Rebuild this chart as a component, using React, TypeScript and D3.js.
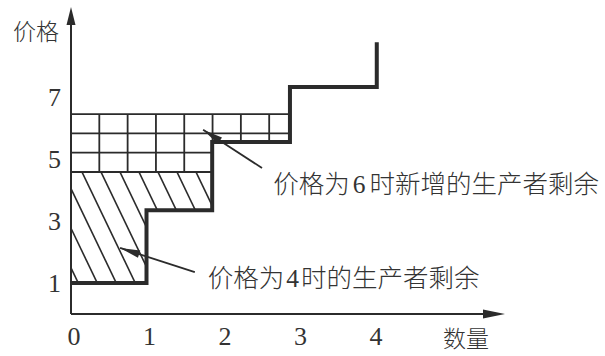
import * as d3 from 'd3';

// quantities where the supply curve steps, and supply price over each piece
const qBreaks = [0, 1, 1.87, 2.9, 4.05];
const supplyPrice = [1, 3.35, 5.55, 7.32, 8.77];

// price levels as drawn (labelled 4 and 6)
const lowPrice = 4.58;
const highPrice = 6.45;

const xTicks = [0, 1, 2, 3, 4];
const yTicks = [1, 3, 5, 7];

const annotations = [
  { pre: '价格为', num: '6', post: '时新增的生产者剩余', gap: [3, 4], tx: 2.68, ty: 3.9, from: [2.53, 4.71], to: [1.75, 5.94] },
  { pre: '价格为', num: '4', post: '时的生产者剩余', gap: [2, 2], tx: 1.81, ty: 0.87, from: [1.64, 1.35], to: [0.65, 2.13] },
];

const W = 605;
const H = 356;
const ink = '#2b2b2b';
const cjk = '"Noto Sans CJK SC", "Noto Sans", sans-serif';
const serif = '"Liberation Serif", "DejaVu Serif", serif';

const x = d3.scaleLinear().domain([0, 4]).range([71, 373]);
const y = d3.scaleLinear().domain([0, 7]).range([314, 97]);

// polygon between a price line and the supply curve
function surplus(top: number, floor: number) {
  const pts: [number, number][] = [[0, top]];
  for (let i = 0; i < supplyPrice.length - 1 && supplyPrice[i] < top; i++) {
    const b = Math.max(supplyPrice[i], floor);
    pts.push([qBreaks[i], b], [qBreaks[i + 1], b]);
  }
  pts.push([pts[pts.length - 1][0], top]);
  return pts;
}

const toPx = (pts: [number, number][]) => pts.map(([q, p]) => `${x(q)},${y(p)}`).join(' ');

function arrowHead(tx: number, ty: number, fx: number, fy: number, len: number, half: number) {
  const a = Math.atan2(ty - fy, tx - fx);
  const bx = tx - len * Math.cos(a);
  const by = ty - len * Math.sin(a);
  const nx = -Math.sin(a) * half;
  const ny = Math.cos(a) * half;
  return `${tx},${ty} ${bx + nx},${by + ny} ${bx - nx},${by - ny}`;
}

export default function App() {
  const supplyLine = d3
    .line<number>()
    .x((_, i) => x(qBreaks[i]))
    .y((d) => y(d))
    .curve(d3.curveStepAfter)(supplyPrice) as string;

  const lowPoly = surplus(lowPrice, 0);
  const gridPoly = surplus(highPrice, lowPrice);
  const gridRight = gridPoly[gridPoly.length - 1][0];

  const gridStep = 0.375;
  const gridCols = d3.range(gridStep, gridRight, gridStep);
  const gridRows = d3.range(1, 3).map((i) => lowPrice + (i * (highPrice - lowPrice)) / 3);

  const yLow = y(lowPrice);
  const hatch = d3.range(-3, 10).map((k) => 82 + 19 * k);
  const slope = 0.48;

  const x0 = x(0);
  const y0 = y(0);
  const xEnd = 505;
  const yEnd = 7;

  return (
    <svg width={W} height={H} style={{ position: 'absolute', left: 0, top: 0, background: '#fff' }}>
      <defs>
        <clipPath id="lowClip">
          <polygon points={toPx(lowPoly)} />
        </clipPath>
        <clipPath id="gridClip">
          <polygon points={toPx(gridPoly)} />
        </clipPath>
      </defs>

      {/* hatched surplus at price 4 */}
      <g clipPath="url(#lowClip)" stroke={ink} strokeWidth={1.6}>
        {hatch.map((hx, i) => (
          <line key={i} x1={hx - slope * 60} y1={yLow - 60} x2={hx + slope * 160} y2={yLow + 160} />
        ))}
      </g>
      <polygon points={toPx(lowPoly)} fill="none" stroke={ink} strokeWidth={1.8} />

      {/* grid for the extra surplus at price 6 */}
      <g clipPath="url(#gridClip)" stroke={ink} strokeWidth={1.8}>
        {gridCols.map((q, i) => (
          <line key={'c' + i} x1={x(q)} x2={x(q)} y1={y(lowPrice)} y2={y(highPrice)} />
        ))}
        {gridRows.map((p, i) => (
          <line key={'r' + i} x1={x(0)} x2={x(gridRight)} y1={y(p)} y2={y(p)} />
        ))}
      </g>
      <polygon points={toPx(gridPoly)} fill="none" stroke={ink} strokeWidth={1.8} />

      {/* supply curve */}
      <path d={supplyLine} fill="none" stroke={ink} strokeWidth={4} strokeLinejoin="miter" />

      {/* axes */}
      <line x1={x0} y1={y0} x2={x0} y2={yEnd + 10} stroke={ink} strokeWidth={2} />
      <line x1={x0} y1={y0} x2={xEnd - 10} y2={y0} stroke={ink} strokeWidth={2} />
      <polygon points={arrowHead(x0, yEnd, x0, y0, 18, 4.5)} fill={ink} />
      <polygon points={arrowHead(xEnd, y0, x0, y0, 22, 4.5)} fill={ink} />

      {xTicks.map((t) => (
        <text key={t} x={x(t) + 3} y={345} textAnchor="middle" fontFamily={serif} fontSize={26} fill="#333">
          {t}
        </text>
      ))}
      {yTicks.map((t) => (
        <text key={t} x={61} y={y(t)} dy="0.35em" textAnchor="end" fontFamily={serif} fontSize={26} fill="#333">
          {t}
        </text>
      ))}

      <text x={13} y={40} fontFamily={cjk} fontSize={23} fontWeight={300} fill="#333">
        价格
      </text>
      <text x={443} y={347} fontFamily={cjk} fontSize={23} fontWeight={300} fill="#333">
        数量
      </text>

      {annotations.map((a, i) => {
        const fx = x(a.from[0]);
        const fy = y(a.from[1]);
        const tx = x(a.to[0]);
        const ty = y(a.to[1]);
        return (
          <g key={i}>
            <line x1={fx} y1={fy} x2={tx} y2={ty} stroke={ink} strokeWidth={1.8} />
            <polygon points={arrowHead(tx, ty, fx, fy, 20, 3.8)} fill={ink} />
            <text x={x(a.tx)} y={y(a.ty)} fontFamily={cjk} fontSize={25.5} fontWeight={300} fill="#333">
              {a.pre}
              <tspan fontFamily={serif} dx={a.gap[0]}>
                {a.num}
              </tspan>
              <tspan dx={a.gap[1]}>{a.post}</tspan>
            </text>
          </g>
        );
      })}
    </svg>
  );
}
